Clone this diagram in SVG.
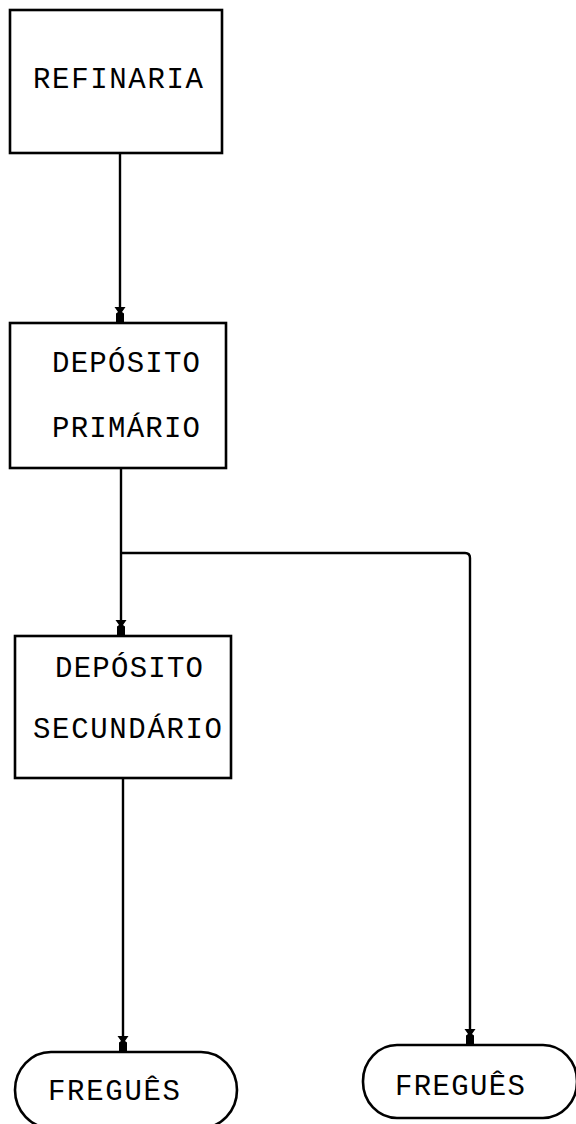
<svg xmlns="http://www.w3.org/2000/svg" width="576" height="1124" viewBox="0 0 576 1124">
  <style>
    .box { fill: #fff; stroke: #000; stroke-width: 2.6; }
    .line { fill: none; stroke: #000; stroke-width: 2.4; }
    .lbl { font-family: "Liberation Mono", "DejaVu Sans Mono", monospace; font-size: 29px; fill: #000; }
  </style>
  <defs>
    <!-- small flared arrowhead, drawn along +x with its tip at the origin -->
    <marker id="head" viewBox="-17 -7 18 14" refX="0" refY="0" markerWidth="18" markerHeight="14" markerUnits="userSpaceOnUse" orient="auto">
      <path d="M-16,-5.5 L-11,-2 L-9.5,-4 L0,-4 L0,4 L-9.5,4 L-11,2 L-16,5.5 Z" fill="#000"/>
    </marker>
  </defs>
  <rect width="576" height="1124" fill="#fff"/>

  <g id="connectors">
    <path class="line" d="M120,153 V323" marker-end="url(#head)"/>
    <path class="line" d="M121,468 V636" marker-end="url(#head)"/>
    <path class="line" d="M121,553 H465 Q470,553 470,558 V1045" marker-end="url(#head)"/>
    <path class="line" d="M123,778 V1052" marker-end="url(#head)"/>
  </g>

  <g id="refinaria">
    <rect class="box" x="10" y="10" width="212" height="143"/>
    <text class="lbl" x="33" y="88" textLength="170">REFINARIA</text>
  </g>

  <g id="deposito-primario">
    <rect class="box" x="10" y="323" width="216" height="145"/>
    <text class="lbl" x="52" y="372" textLength="148">DEPÓSITO</text>
    <text class="lbl" x="52" y="437" textLength="148">PRIMÁRIO</text>
  </g>

  <g id="deposito-secundario">
    <rect class="box" x="15" y="636" width="216" height="142"/>
    <text class="lbl" x="55" y="677" textLength="148">DEPÓSITO</text>
    <text class="lbl" x="33" y="738" textLength="189">SECUNDÁRIO</text>
  </g>

  <g id="fregues-1">
    <rect class="box" x="15" y="1052" width="222" height="76" rx="36" ry="38"/>
    <text class="lbl" x="48" y="1100" textLength="132">FREGUÊS</text>
  </g>

  <g id="fregues-2">
    <rect class="box" x="363" y="1045" width="214" height="73" rx="34" ry="36"/>
    <text class="lbl" x="395" y="1095" textLength="130">FREGUÊS</text>
  </g>
</svg>
